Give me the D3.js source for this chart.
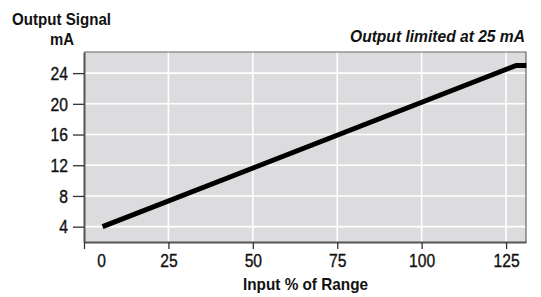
<!DOCTYPE html>
<html><head><meta charset="utf-8">
<script src="https://cdn.jsdelivr.net/npm/d3@7"></script>
<style>
body{margin:0;background:#fff;}
text{font-family:"Liberation Sans",Arial,sans-serif;fill:#111;}
</style></head><body>
<svg id="c" width="541" height="297"></svg>
<script>
const xTicks = [0, 25, 50, 75, 100, 125];
const yTicks = [4, 8, 12, 16, 20, 24];
const inputPct = [5.5, 128, 131];
const outputMA = [4, 25, 25];
const yTitle = ["Output Signal", "mA"];
const xTitle = "Input % of Range";
const note = "Output limited at 25 mA";

const svg = d3.select("#c");
const L = 84, R = 526, T = 52, B = 242;
const x = d3.scaleLinear().domain([0, 130.9]).range([L, R]);
const y = d3.scaleLinear().domain([2, 26.75]).range([B, T]);

svg.append("rect").attr("x", L).attr("y", T).attr("width", R - L).attr("height", B - T)
  .attr("fill", "#dcdcde");

// grid
svg.append("g").selectAll("line").data(xTicks.filter(d => d > 0)).join("line")
  .attr("x1", d => x(d)).attr("x2", d => x(d)).attr("y1", T).attr("y2", B)
  .attr("stroke", "#fff").attr("stroke-width", 1.6);
svg.append("g").selectAll("line").data(yTicks).join("line")
  .attr("x1", L).attr("x2", R).attr("y1", d => y(d)).attr("y2", d => y(d))
  .attr("stroke", "#fff").attr("stroke-width", 1.6);

// frame top/right
svg.append("path").attr("d", `M${L},${T}H${R}V${B}`).attr("fill", "none")
  .attr("stroke", "#666").attr("stroke-width", 1.2);

// axes
const yAxis = d3.axisLeft(y).tickValues(yTicks).tickSize(11).tickPadding(5).tickSizeOuter(0);
const gy = svg.append("g").attr("transform", `translate(${L},0)`).call(yAxis);
const xAxis = d3.axisBottom(x).tickValues(xTicks).tickSize(7).tickPadding(5).tickSizeOuter(0);
const gx = svg.append("g").attr("transform", `translate(0,${B})`).call(xAxis);
[gy, gx].forEach(g => {
  g.attr("font-size", null).attr("font-family", null);
  g.select(".domain").attr("stroke", "#555").attr("stroke-width", 2);
  g.selectAll(".tick line").attr("stroke", "#333").attr("stroke-width", 1.3);
  g.selectAll(".tick text").style("font-size", "17.5px").attr("fill", "#111")
    .attr("stroke", "#111").attr("stroke-width", 0.35)
    .style("font-family", '"Liberation Sans",Arial,sans-serif')
    .attr("textLength", d => String(d).length * 8.7).attr("lengthAdjust", "spacingAndGlyphs");
});
gy.selectAll(".tick text").attr("dy", "0.36em");
gx.selectAll(".tick text").attr("dy", "0.72em");
gx.selectAll(".tick").filter(d => d === 0).select("text").attr("dx", 17);

// line
const line = d3.line().x((d, i) => x(inputPct[i])).y((d, i) => y(outputMA[i]));
svg.append("path").datum(inputPct).attr("d", line).attr("fill", "none")
  .attr("stroke", "#000").attr("stroke-width", 5).attr("stroke-linejoin", "miter");

// titles
function title(txt, cx, by, w, anchor, italic) {
  const t = svg.append("text").attr("x", cx).attr("y", by).attr("text-anchor", anchor)
    .style("font-size", "16.5px").attr("font-weight", "bold").text(txt);
  if (italic) t.attr("font-style", "italic");
  t.attr("textLength", w).attr("lengthAdjust", "spacingAndGlyphs");
}
title(yTitle[0], 61.5, 24.5, 99, "middle");
title(yTitle[1], 62, 45, 24, "middle");
title(note, 525, 42, 175, "end", true);
title(xTitle, 305.5, 290, 125, "middle");
</script></body></html>
